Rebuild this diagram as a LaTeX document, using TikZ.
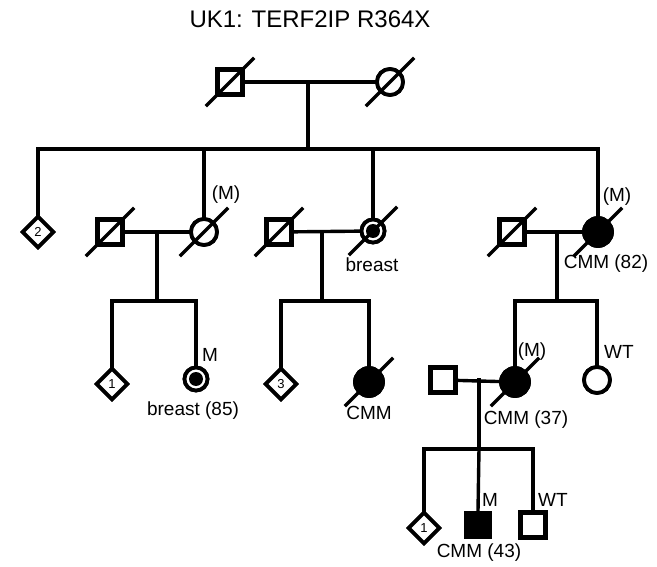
\documentclass[tikz,border=0pt]{standalone}
\usepackage{fontspec}
\setmainfont{Liberation Sans}
\usetikzlibrary{shapes.geometric}
\newcommand\decsl[1]{\draw[ln] (#1.center) ++(-23,23) -- ++(46,-46);}
\begin{document}
\begin{tikzpicture}[x=1pt,y=-1pt,
  ln/.style={line width=3.4pt, line cap=rect},
  sym/.style={draw, line width=3.8pt, inner sep=0pt, fill=white},
  male/.style={sym, rectangle, line width=4.3pt, minimum size=25pt},
  female/.style={sym, circle, minimum size=26pt},
  unk/.style={sym, diamond, minimum width=32pt, minimum height=32pt, font=\fontsize{13}{13}\selectfont},
  aff/.style={fill=black},
  lbl/.style={font=\fontsize{19}{19}\selectfont, inner sep=0pt, anchor=center},
  ]
\useasboundingbox (0,0) rectangle (657,567);
% title
\node[lbl, font=\fontsize{24}{24}\selectfont] (title) at (310,19) {UK1: TERF2IP R364X};
% ---------- connectors coords
\coordinate (m1) at (308,82);
\coordinate (s1) at (308,149);
\coordinate (sL) at (38,149);
\coordinate (sR) at (598,149);
\coordinate (s1b) at (204,149);
\coordinate (s1c) at (373,149);
% ---------- generation I
\node[male, line width=4.8pt] (I1) at (230,82) {};
\node[female] (I2) at (390,82) {};
% ---------- generation II
\node[unk] (II1) at (38,232) {2};
\node[male, line width=4.8pt] (II2) at (110,232) {};
\node[female] (II3) at (204,232) {};
\node[male, line width=4.8pt] (II4) at (279,232) {};
\node[female, minimum size=23pt] (II5) at (373,231) {};
\node[male] (II6) at (512,232) {};
\node[female, aff, minimum size=28pt] (II7) at (598,232) {};
% ---------- generation III
\node[unk] (III1) at (112,384) {1};
\node[female, minimum size=23pt] (III2) at (196,379) {};
\node[unk] (III3) at (281,384) {3};
\node[female, aff, minimum size=28pt] (III4) at (369,382) {};
\node[male] (III5) at (443,380) {};
\node[female, aff, minimum size=28pt] (III6) at (515,382) {};
\node[female] (III7) at (597,380) {};
% ---------- generation IV
\node[unk] (IV1) at (424,528) {1};
\node[male, aff, minimum size=23pt] (IV2) at (478,525) {};
\node[male] (IV3) at (533,525) {};
% ---------- lines gen I
\draw[ln] (I1) -- (I2);
\draw[ln] (m1) -- (s1);
\draw[ln] (sL) -- (sR);
\draw[ln] (sL) -- (II1.north);
\draw[ln] (s1b) -- (II3.north);
\draw[ln] (s1c) -- (II5.north);
\draw[ln] (sR) -- (II7.north);
% ---------- lines gen II
\coordinate (m2) at (157,232);
\coordinate (m3) at (322,232);
\coordinate (m4) at (557,232);
\draw[ln] (II2) -- (II3);
\draw[ln] (II4) -- (II5);
\draw[ln] (II6) -- (II7);
\coordinate (s2) at (157,301);
\coordinate (s3) at (322,301);
\coordinate (s4) at (557,301);
\draw[ln] (m2) -- (s2);
\draw[ln] (m3) -- (s3);
\draw[ln] (m4) -- (s4);
\draw[ln] (III1.north) |- (III2.north |- s2) -- (III2.north);
\draw[ln] (III3.north) |- (III4.north |- s3) -- (III4.north);
\draw[ln] (III6.north) |- (III7.north |- s4) -- (III7.north);
% ---------- lines gen III
\coordinate (m5) at (479,380);
\coordinate (s5) at (479,449);
\draw[ln] (III5) -- (III6);
\draw[ln] (m5) -- (s5);
\draw[ln] (IV1.north) |- (IV3.north |- s5) -- (IV3.north);
\draw[ln] (s5) -- (IV2.north);
% ---------- redraw symbols on top
\node[male, line width=4.8pt] at (I1) {};
\node[female] at (I2) {};
\node[unk] at (II1) {2};
\node[male, line width=4.8pt] at (II2) {};
\node[female] at (II3) {};
\node[male, line width=4.8pt] at (II4) {};
\node[female, minimum size=23pt] at (II5) {};
\node[circle, fill=black, minimum size=14pt, inner sep=0pt] (II5d) at (II5.center) {};
\node[male] at (II6) {};
\node[female, aff, minimum size=28pt] at (II7) {};
\node[unk] at (III1) {1};
\node[female, minimum size=23pt] at (III2) {};
\node[circle, fill=black, minimum size=14pt, inner sep=0pt] (III2d) at (III2.center) {};
\node[unk] at (III3) {3};
\node[female, aff, minimum size=28pt] at (III4) {};
\node[male] at (III5) {};
\node[female, aff, minimum size=28pt] at (III6) {};
\node[female] at (III7) {};
\node[unk] at (IV1) {1};
\node[male, aff, minimum size=23pt] at (IV2) {};
\node[male] at (IV3) {};
% ---------- deceased slashes
\decsl{I1}\decsl{I2}
\decsl{II2}\decsl{II3}\decsl{II4}\decsl{II5}\decsl{II6}\decsl{II7}
\decsl{III4}\decsl{III6}
% ---------- labels
\node[lbl] (L1) at (226,195) {(M)};
\node[lbl] (L2) at (372,265) {breast};
\node[lbl] (L3) at (617,197) {(M)};
\node[lbl] (L4) at (606,264) {CMM (82)};
\node[lbl] (L5) at (210,355) {M};
\node[lbl] (L6) at (193,411) {breast (85)};
\node[lbl] (L7) at (369,413) {CMM};
\node[lbl] (L8) at (532,352) {(M)};
\node[lbl] (L9) at (526,420) {CMM (37)};
\node[lbl] (L10) at (619,352) {WT};
\node[lbl] (L11) at (490,500) {M};
\node[lbl] (L12) at (553,500) {WT};
\node[lbl] (L13) at (479,553) {CMM (43)};
\end{tikzpicture}
\end{document}
